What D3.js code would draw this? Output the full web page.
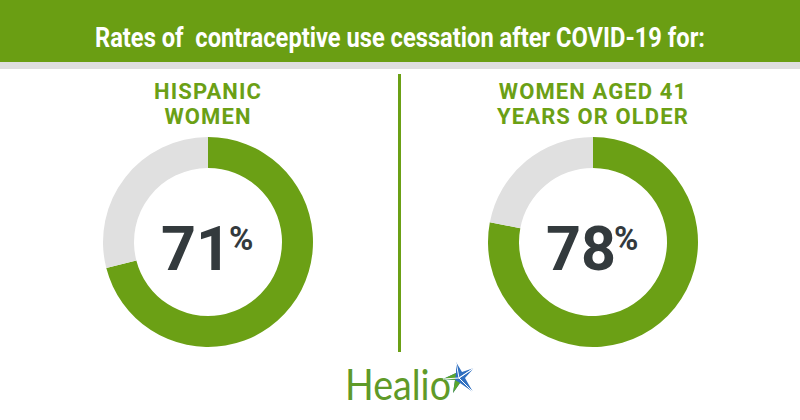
<!DOCTYPE html>
<html><head><meta charset="utf-8">
<script src="https://cdn.jsdelivr.net/npm/d3@7"></script>
<style>body{margin:0;background:#fff}svg{display:block}</style>
</head><body><svg id="c" width="800" height="420"></svg>
<script>
const titleText = "Rates of  contraceptive use cessation after COVID-19 for:";
const groups = [["HISPANIC","WOMEN"],["WOMEN AGED 41","YEARS OR OLDER"]];
const values = [71, 78];

const green = "#6ba015", grey = "#e0e0e0", dark = "#333a3d";
const svg = d3.select("#c");
svg.append("rect").attr("x",0).attr("y",0).attr("width",800).attr("height",62).attr("fill","#6a9e13");
svg.append("rect").attr("x",0).attr("y",62).attr("width",800).attr("height",7).attr("fill","#dedede");
svg.append("text").attr("x",400).attr("y",47).attr("text-anchor","middle")
  .attr("font-family","Roboto").attr("font-weight",700).attr("font-size",27)
  .attr("fill","#fff").attr("textLength",610).attr("lengthAdjust","spacingAndGlyphs")
  .style("white-space","pre").text(titleText);

svg.append("line").attr("x1",399.5).attr("x2",399.5).attr("y1",74).attr("y2",352)
  .attr("stroke",green).attr("stroke-width",3);

const x = d3.scalePoint().domain(d3.range(values.length)).range([208,593]);
const pie = d3.pie().sort(null).value(d=>d);
const arc = d3.arc().innerRadius(74).outerRadius(105);

values.forEach((v,i)=>{
  const g = svg.append("g").attr("transform",`translate(${x(i)},242)`);
  g.selectAll("path").data(pie([v,100-v])).join("path")
    .attr("d",arc).attr("fill",(d,j)=>j===0?green:grey);
  groups[i].forEach((line,k)=>{
    svg.append("text").attr("x",x(i)).attr("y",99+k*25).attr("text-anchor","middle")
      .attr("font-family","Roboto").attr("font-weight",700).attr("font-size",22)
      .attr("fill",green).attr("letter-spacing",1.1).text(line);
  });
  g.append("text").attr("x",23).attr("y",28).attr("text-anchor","end")
    .attr("font-family","Roboto").attr("font-weight",700).attr("fill",dark)
    .attr("font-size",61).text(v);
  g.append("text").attr("x",21).attr("y",8).attr("text-anchor","start")
    .attr("font-family","Roboto").attr("font-weight",700).attr("fill",dark)
    .attr("font-size",33).text("%");
});

// Healio logo
svg.append("text").attr("x",345).attr("y",400).attr("font-family","Lato").attr("font-weight",400)
  .attr("font-size",42).attr("fill","#5f9a28").attr("textLength",106).attr("lengthAdjust","spacingAndGlyphs").text("Healio");
const sg = svg.append("g").attr("transform","translate(458,377)");
sg.append("path").attr("d","M-2,-15 L4,-5 L16,-9 L7,1 L15,15 L2,6 L-5,16 L-3,3 L-15,2 L-2,-4 Z").attr("fill","#2f6fc0");
sg.append("path").attr("d","M-3,3 L-15,2 L-2,-4 Z M2,6 L-5,16 L-3,3 Z").attr("fill","#5aa52c");
sg.append("path").attr("d","M-2,-15 L1,1 L16,-9 L1,1 L15,15 L1,1 L-15,2").attr("stroke","#fff").attr("stroke-width",1).attr("fill","none");
</script></body></html>
